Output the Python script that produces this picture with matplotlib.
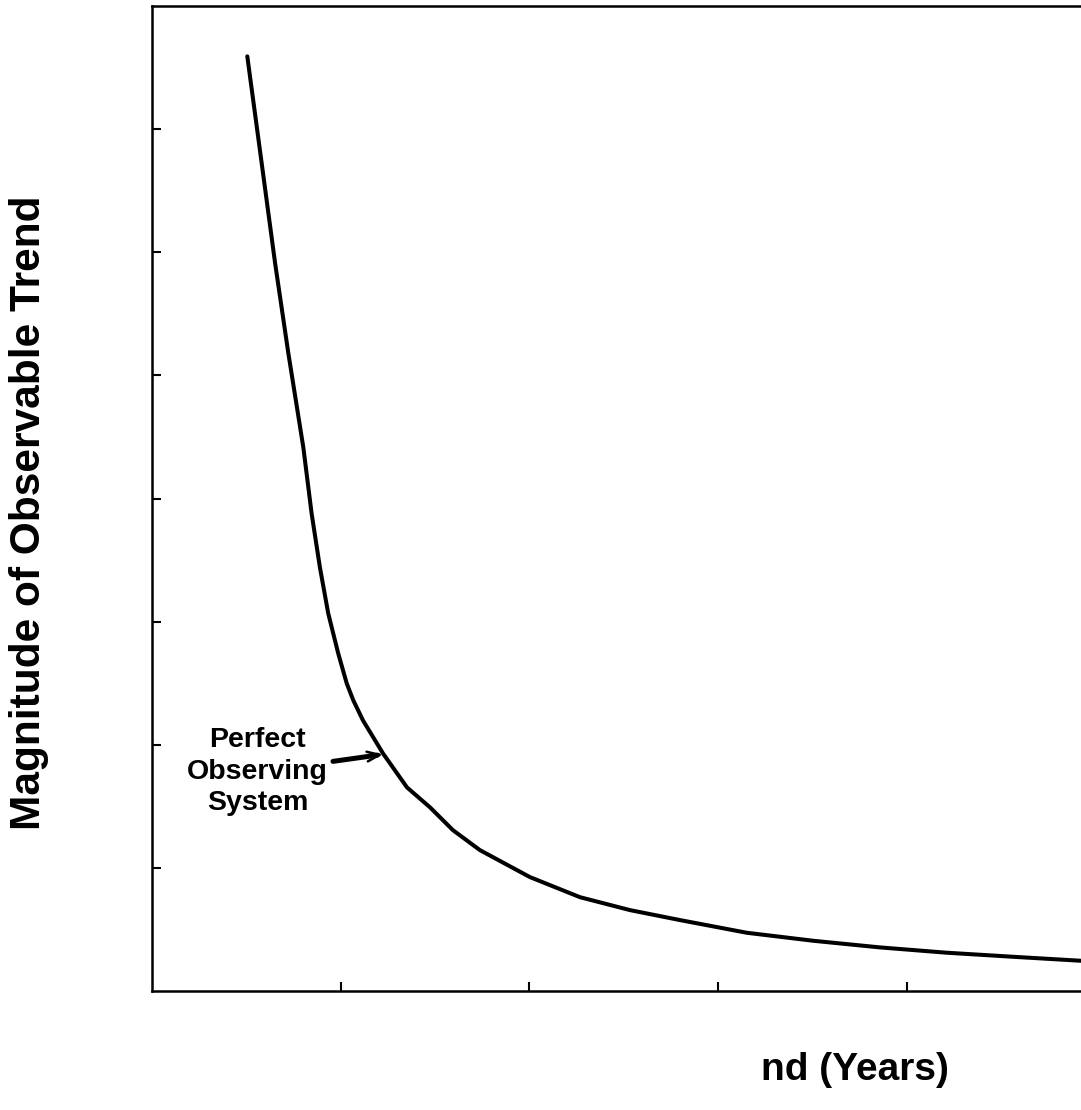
import matplotlib
matplotlib.use("Agg")
import matplotlib.pyplot as plt

plt.rcParams['font.family'] = ['Liberation Sans', 'DejaVu Sans']

# Data
trend_length = [0.505, 0.581, 0.652, 0.722, 0.802, 0.846, 0.890, 0.934, 0.987,
                1.032, 1.067, 1.118, 1.224, 1.351, 1.473, 1.595, 1.738, 2.003,
                2.268, 2.533, 2.798, 3.152, 3.504, 3.858, 4.211, 4.563, 4.918, 5.0]
magnitude = [7.591, 6.726, 5.915, 5.185, 4.414, 3.877, 3.439, 3.066, 2.741,
             2.498, 2.360, 2.198, 1.930, 1.654, 1.492, 1.306, 1.144, 0.925,
             0.762, 0.657, 0.576, 0.473, 0.408, 0.354, 0.311, 0.278, 0.246, 0.238]
x_ticks = [1, 2, 3, 4]
y_ticks = [1, 2, 3, 4, 5, 6, 7]
annotation_text = "Perfect\nObserving\nSystem"
arrow_head = (1.224, 1.922)
arrow_tail = (0.959, 1.865)
annotation_pos = (0.56, 1.78)
y_label = "Magnitude of Observable Trend"
x_label = "nd (Years)"

W, H = 1081, 1110
fig = plt.figure(figsize=(W / 100, H / 100), dpi=100)
left = 152 / W
bottom = (H - 991) / H
top = (H - 6) / H
right_px = 152 + 5 * 188.7
ax = fig.add_axes([left, bottom, (right_px - 152) / W, top - bottom])

ax.plot(trend_length, magnitude, color='black', lw=2.9,
        solid_capstyle='round', solid_joinstyle='round')
ax.set_xlim(0, 5)
ax.set_ylim(0, 8)
ax.set_xticks(x_ticks)
ax.set_yticks(y_ticks)
ax.set_xticklabels([])
ax.set_yticklabels([])
ax.tick_params(direction='in', length=6.5, width=1.5, color='black')
for s in ax.spines.values():
    s.set_linewidth(1.8)
    s.set_color('black')

ax.text(annotation_pos[0], annotation_pos[1], annotation_text, ha='center', va='center',
        fontsize=20.5, fontweight='bold', linespacing=1.28)
ax.annotate('', xy=arrow_head, xytext=arrow_tail,
            arrowprops=dict(arrowstyle='-', lw=3.6, color='black', shrinkA=0, shrinkB=4))
ax.annotate('', xy=arrow_head, xytext=arrow_tail,
            arrowprops=dict(arrowstyle='->,head_length=0.9,head_width=0.35', lw=1.8,
                            color='black', shrinkA=0, shrinkB=0))

fig.text(29 / W, 1 - 513 / H, y_label, rotation=90, ha='center', va='center',
         fontsize=30.5, fontweight='bold')
fig.text(855 / W, 1 - 1070 / H, x_label, ha='center', va='center',
         fontsize=28, fontweight='bold')

fig.savefig("out.png", dpi=100)
